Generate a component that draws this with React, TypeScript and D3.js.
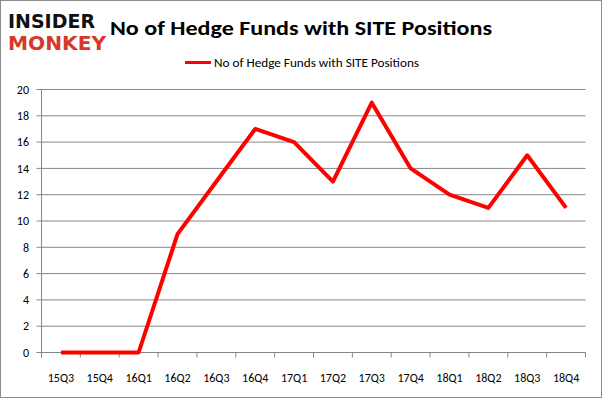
import React from 'react';
import * as d3 from 'd3';

const quarters = ['15Q3', '15Q4', '16Q1', '16Q2', '16Q3', '16Q4', '17Q1', '17Q2', '17Q3', '17Q4', '18Q1', '18Q2', '18Q3', '18Q4'];
const funds = [0, 0, 0, 9, 13, 17, 16, 13, 19, 14, 12, 11, 15, 11];
const yTicks = [0, 2, 4, 6, 8, 10, 12, 14, 16, 18, 20];
const seriesName = 'No of Hedge Funds with SITE Positions';

const width = 602, height = 398;
const font = 'Calibri, Carlito, "Open Sans", sans-serif';

const App = () => {
    const x = d3.scaleBand().domain(quarters).range([41.5, 585.5]);
    const y = d3.scaleLinear().domain([0, 20]).range([352.5, 89.5]);

    const line = d3.line<number>()
        .x((d, i) => (x(quarters[i]) as number) + x.bandwidth() / 2)
        .y(d => y(d));

    const grid = yTicks.map(t => (
        <g key={t}>
            {t > 0 && <line x1={41.5} x2={585.5} y1={y(t)} y2={y(t)} stroke="#868686" strokeWidth={1} />}
            <line x1={36.5} x2={41.5} y1={y(t)} y2={y(t)} stroke="#868686" strokeWidth={1} />
            <text x={29} y={y(t)} dy="0.35em" textAnchor="end" fontSize={12} fill="#000">{t}</text>
        </g>
    ));

    const xTicks = quarters.concat(['end']).map((q, i) => {
        const px = 41.5 + i * x.step();
        return <line key={q} x1={px} x2={px} y1={352.5} y2={357.5} stroke="#868686" />;
    });

    const xLabels = quarters.map(q => (
        <text key={q} x={(x(q) as number) + x.bandwidth() / 2} y={382} textAnchor="middle" fontSize={12} fill="#000">{q}</text>
    ));

    return (
        <svg width={width} height={height} style={{ position: 'absolute', left: 0, top: 0, fontFamily: font }}>
            <rect x={0.5} y={0.5} width={width - 1} height={height - 1} fill="#fff" stroke="#8c8c8c" />
            <g transform="translate(8,28) scale(1,1.3)">
                <text x={0} y={0} fontFamily="'DejaVu Sans', sans-serif" fontWeight={900} fontSize={15} textLength={87} lengthAdjust="spacingAndGlyphs" fill="#111">INSIDER</text>
            </g>
            <g transform="translate(8,50) scale(1,1.3)">
                <text x={0} y={0} fontFamily="'DejaVu Sans', sans-serif" fontWeight={900} fontSize={15} textLength={98} lengthAdjust="spacingAndGlyphs" fill="#d6382b">MONKEY</text>
            </g>
            <text x={301} y={35} textAnchor="middle" fontSize={21} fontWeight="bold" fill="#000" textLength={382} lengthAdjust="spacingAndGlyphs">{seriesName}</text>
            <line x1={185} x2={211} y1={62.5} y2={62.5} stroke="#ff0000" strokeWidth={3} />
            <text x={214} y={66.5} fontSize={12} fill="#000" textLength={205} lengthAdjust="spacingAndGlyphs">{seriesName}</text>
            {grid}
            <line x1={41.5} x2={41.5} y1={89.5} y2={352.5} stroke="#868686" />
            <line x1={41.5} x2={585.5} y1={352.5} y2={352.5} stroke="#868686" />
            {xTicks}
            {xLabels}
            <path d={line(funds) as string} fill="none" stroke="#ff0000" strokeWidth={4} strokeLinejoin="round" />
        </svg>
    );
};

export default App;
